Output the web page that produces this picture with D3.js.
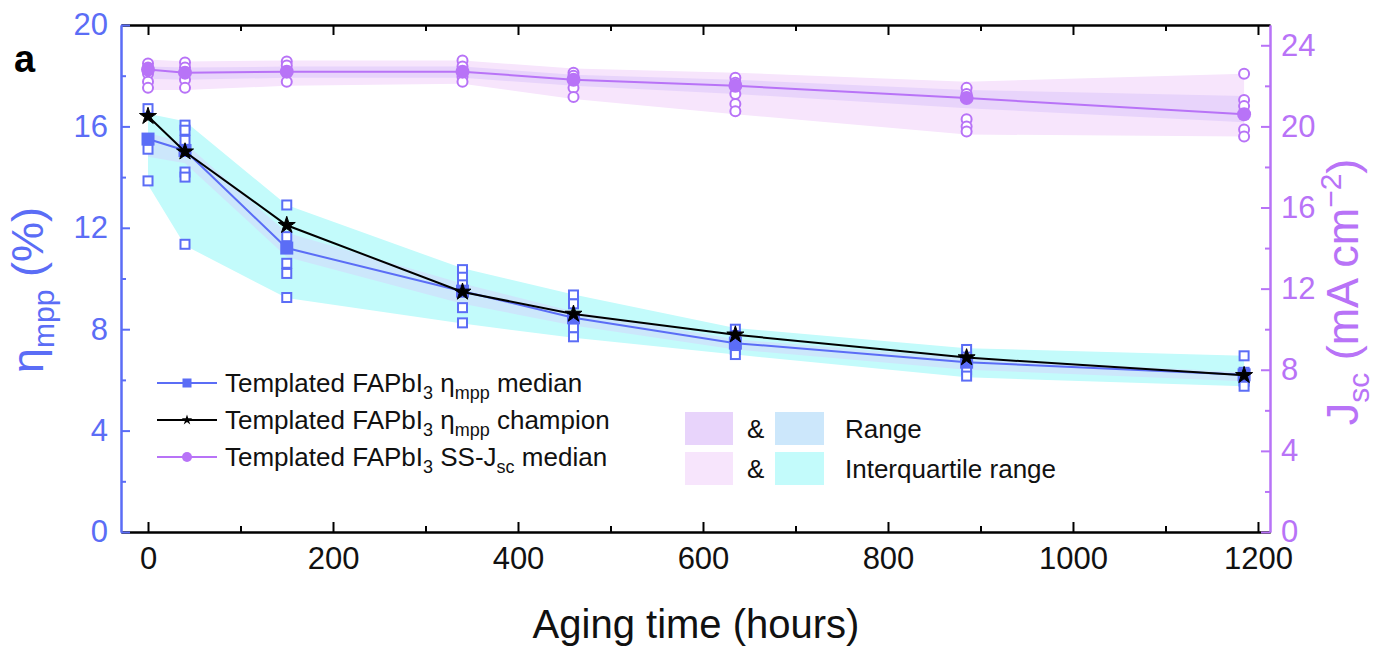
<!DOCTYPE html>
<html>
<head>
<meta charset="utf-8">
<script src="https://cdn.jsdelivr.net/npm/d3@7"></script>
<style>
  html, body { margin: 0; padding: 0; background: #fff; }
  svg { display: block; font-family: Arial, "Liberation Sans", sans-serif; }
</style>
</head>
<body>
<svg id="chart" width="1389" height="646"></svg>
<script>
// Aging times (hours)
const hours = [0, 40, 150, 340, 460, 635, 885, 1185];

// Efficiency at maximum power point (%)
const etaMedian   = [15.5, 15.05, 11.2, 9.5, 8.45, 7.45, 6.7, 6.2];
const etaChampion = [16.4, 15.0, 12.1, 9.47, 8.6, 7.78, 6.88, 6.18];
const etaRangeLo  = [13.7, 11.3, 9.23, 8.22, 7.66, 7.0, 6.1, 5.75];
const etaRangeHi  = [16.5, 16.2, 12.9, 10.4, 9.37, 8.05, 7.25, 6.95];
const etaIqrLo    = [14.8, 14.55, 10.85, 9.0, 8.15, 7.2, 6.4, 5.95];
const etaIqrHi    = [15.75, 15.35, 11.8, 9.8, 8.7, 7.6, 6.85, 6.3];
const etaDevices  = [
  [16.7, 15.1, 13.85],
  [16.05, 15.85, 15.45, 14.2, 14.0, 11.35],
  [12.9, 11.65, 10.6, 10.2, 9.25],
  [10.35, 10.05, 9.75, 8.85, 8.25],
  [9.35, 9.0, 8.35, 8.05, 7.7],
  [8.0, 7.75, 7.2, 7.0],
  [7.2, 6.9, 6.4, 6.15],
  [6.95, 6.3, 5.95, 5.75]
];

// Steady-state short-circuit current density (mA cm^-2)
const jscMedian  = [22.8, 22.65, 22.7, 22.7, 22.3, 22.0, 21.4, 20.6];
const jscRangeLo = [21.8, 21.8, 22.0, 22.1, 21.35, 20.6, 19.6, 19.5];
const jscRangeHi = [23.3, 23.2, 23.25, 23.25, 22.85, 22.65, 22.2, 22.6];
const jscIqrLo   = [22.35, 22.3, 22.4, 22.4, 22.0, 21.6, 20.9, 20.2];
const jscIqrHi   = [22.95, 22.9, 22.95, 22.95, 22.55, 22.3, 21.8, 21.5];
const jscDevices = [
  [23.1, 22.9, 22.6, 22.2, 21.9],
  [23.15, 22.9, 22.3, 21.9],
  [23.2, 23.0, 22.2],
  [23.25, 22.95, 22.45, 22.2],
  [22.65, 22.5, 21.9, 21.45],
  [22.4, 22.15, 21.6, 21.1, 20.75],
  [21.9, 21.6, 20.35, 20.0, 19.75],
  [22.6, 21.3, 21.0, 19.85, 19.5]
];

// Axis ticks
const xMajorTicks = [0, 200, 400, 600, 800, 1000, 1200];
const xMinorTicks = [100, 300, 500, 700, 900, 1100];
const etaMajorTicks = [0, 4, 8, 12, 16, 20];
const etaMinorTicks = [2, 6, 10, 14, 18];
const jscMajorTicks = [0, 4, 8, 12, 16, 20, 24];
const jscMinorTicks = [2, 6, 10, 14, 18, 22];

const BLUE = "#5b6df6";
const PURPLE = "#b873f7";
const CYAN = "#c3fbfb";
const LIGHTBLUE = "#cce7fb";
const PINK = "#f7e5fc";
const LAVENDER = "#e8d4fb";

const svg = d3.select("#chart");
const plot = { left: 121, right: 1270, top: 25, bottom: 532 };

const x = d3.scaleLinear().domain([-29.2, 1213]).range([plot.left, plot.right]);
const yEta = d3.scaleLinear().domain([0, 20]).range([plot.bottom, plot.top]);
const yJsc = d3.scaleLinear().domain([0, 25]).range([plot.bottom, plot.top]);
const fmt = d3.format("d");

// ---- shaded bands ----
function band(lo, hi, y) {
  return d3.area()
    .x((d, i) => x(hours[i]))
    .y0((d, i) => y(lo[i]))
    .y1((d, i) => y(hi[i]))(hours);
}
svg.append("path").attr("d", band(jscRangeLo, jscRangeHi, yJsc)).attr("fill", PINK);
svg.append("path").attr("d", band(jscIqrLo, jscIqrHi, yJsc)).attr("fill", LAVENDER);
svg.append("path").attr("d", band(etaRangeLo, etaRangeHi, yEta)).attr("fill", CYAN);
svg.append("path").attr("d", band(etaIqrLo, etaIqrHi, yEta)).attr("fill", LIGHTBLUE);

// ---- axes ----
function styleAxis(g, color) {
  g.select(".domain").attr("stroke", color).attr("stroke-width", 2);
  g.selectAll(".tick line").attr("stroke", color).attr("stroke-width", 2);
  g.selectAll(".tick text").attr("fill", color).attr("font-size", 31)
    .attr("font-family", "Arial, 'Liberation Sans', sans-serif");
}

// top frame
svg.append("g").attr("transform", `translate(0,${plot.top})`)
  .call(d3.axisTop(x).tickValues(xMajorTicks).tickSize(-10).tickSizeOuter(0).tickFormat(""))
  .call(g => styleAxis(g, "#000"));
svg.append("g").attr("transform", `translate(0,${plot.top})`)
  .call(d3.axisTop(x).tickValues(xMinorTicks).tickSize(-6).tickSizeOuter(0).tickFormat(""))
  .call(g => styleAxis(g, "#000"));

// bottom axis
svg.append("g").attr("transform", `translate(0,${plot.bottom})`)
  .call(d3.axisBottom(x).tickValues(xMinorTicks).tickSize(-6).tickSizeOuter(0).tickFormat(""))
  .call(g => styleAxis(g, "#000"));
svg.append("g").attr("transform", `translate(0,${plot.bottom})`)
  .call(d3.axisBottom(x).tickValues(xMajorTicks).tickSize(-10).tickSizeOuter(0).tickPadding(15).tickFormat(fmt))
  .call(g => styleAxis(g, "#000"))
  .call(g => g.selectAll(".tick text").attr("fill", "#111"));

// left axis (efficiency)
svg.append("g").attr("transform", `translate(${plot.left},0)`)
  .call(d3.axisLeft(yEta).tickValues(etaMinorTicks).tickSize(-5).tickSizeOuter(0).tickFormat(""))
  .call(g => styleAxis(g, BLUE));
svg.append("g").attr("transform", `translate(${plot.left},0)`)
  .call(d3.axisLeft(yEta).tickValues(etaMajorTicks).tickSize(-9).tickSizeOuter(0).tickPadding(13).tickFormat(fmt))
  .call(g => styleAxis(g, BLUE));

// right axis (Jsc)
svg.append("g").attr("transform", `translate(${plot.right},0)`)
  .call(d3.axisRight(yJsc).tickValues(jscMinorTicks).tickSize(-5).tickSizeOuter(0).tickFormat(""))
  .call(g => styleAxis(g, PURPLE));
svg.append("g").attr("transform", `translate(${plot.right},0)`)
  .call(d3.axisRight(yJsc).tickValues(jscMajorTicks).tickSize(-9).tickSizeOuter(0).tickPadding(11).tickFormat(fmt))
  .call(g => styleAxis(g, PURPLE));

// ---- Jsc series ----
const lineJsc = d3.line().x((d, i) => x(hours[i])).y(d => yJsc(d));
svg.append("path").attr("d", lineJsc(jscMedian))
  .attr("fill", "none").attr("stroke", PURPLE).attr("stroke-width", 2);
hours.forEach((h, i) => {
  svg.append("g").selectAll("circle").data(jscDevices[i]).join("circle")
    .attr("cx", x(h)).attr("cy", d => yJsc(d)).attr("r", 5)
    .attr("fill", "#fff").attr("stroke", PURPLE).attr("stroke-width", 2);
});
svg.append("g").selectAll("circle").data(jscMedian).join("circle")
  .attr("cx", (d, i) => x(hours[i])).attr("cy", d => yJsc(d)).attr("r", 7)
  .attr("fill", PURPLE);

// ---- efficiency series ----
const lineEta = d3.line().x((d, i) => x(hours[i])).y(d => yEta(d));
svg.append("path").attr("d", lineEta(etaMedian))
  .attr("fill", "none").attr("stroke", BLUE).attr("stroke-width", 2);
hours.forEach((h, i) => {
  svg.append("g").selectAll("rect").data(etaDevices[i]).join("rect")
    .attr("x", x(h) - 4.5).attr("y", d => yEta(d) - 4.5)
    .attr("width", 9).attr("height", 9)
    .attr("fill", "#fff").attr("stroke", BLUE).attr("stroke-width", 2);
});
svg.append("g").selectAll("rect").data(etaMedian).join("rect")
  .attr("x", (d, i) => x(hours[i]) - 6.5).attr("y", d => yEta(d) - 6.5)
  .attr("width", 13).attr("height", 13).attr("fill", BLUE);

svg.append("path").attr("d", lineEta(etaChampion))
  .attr("fill", "none").attr("stroke", "#000").attr("stroke-width", 2);
const star = d3.symbol().type(d3.symbolStar).size(90);
svg.append("g").selectAll("path").data(etaChampion).join("path")
  .attr("d", star)
  .attr("transform", (d, i) => `translate(${x(hours[i])},${yEta(d)})`)
  .attr("fill", "#000").attr("stroke", "#000").attr("stroke-width", 1);

// ---- axis titles ----
const titleFont = 45, titleSub = 30;
const leftTitle = svg.append("text")
  .attr("transform", "translate(43,290) rotate(-90)")
  .attr("text-anchor", "middle").attr("fill", BLUE).attr("font-size", titleFont);
leftTitle.append("tspan").text("η");
leftTitle.append("tspan").attr("font-size", titleSub).attr("dy", 11).text("mpp");
leftTitle.append("tspan").attr("dy", -11).text(" (%)");

const rightTitle = svg.append("text")
  .attr("transform", "translate(1358,292) rotate(-90)")
  .attr("text-anchor", "middle").attr("fill", PURPLE).attr("font-size", titleFont);
rightTitle.append("tspan").text("J");
rightTitle.append("tspan").attr("font-size", titleSub).attr("dy", 11).text("sc");
rightTitle.append("tspan").attr("dy", -11).text(" (mA cm");
rightTitle.append("tspan").attr("font-size", titleSub).attr("dy", -17).text("−2");
rightTitle.append("tspan").attr("dy", 17).text(")");

svg.append("text").attr("x", 696).attr("y", 638)
  .attr("text-anchor", "middle").attr("font-size", 40).attr("fill", "#111")
  .text("Aging time (hours)");

svg.append("text").attr("x", 14).attr("y", 72)
  .attr("font-size", 38).attr("font-weight", "bold").attr("fill", "#000").text("a");

// ---- series legend ----
const legendRows = [
  { color: BLUE, marker: "square", parts: [["Templated FAPbI"], ["3", "sub"], [" η"], ["mpp", "sub"], [" median"]] },
  { color: "#000", marker: "star", parts: [["Templated FAPbI"], ["3", "sub"], [" η"], ["mpp", "sub"], [" champion"]] },
  { color: PURPLE, marker: "circle", parts: [["Templated FAPbI"], ["3", "sub"], [" SS-J"], ["sc", "sub"], [" median"]] }
];
const legendY = [383, 420, 457];
legendRows.forEach((row, i) => {
  const g = svg.append("g").attr("transform", `translate(0,${legendY[i]})`);
  g.append("line").attr("x1", 157).attr("x2", 217).attr("y1", 0).attr("y2", 0)
    .attr("stroke", row.color).attr("stroke-width", 2);
  if (row.marker === "square") {
    g.append("rect").attr("x", 182.5).attr("y", -4.5).attr("width", 9).attr("height", 9).attr("fill", row.color);
  } else if (row.marker === "star") {
    g.append("path").attr("d", d3.symbol().type(d3.symbolStar).size(34)())
      .attr("transform", "translate(187,0)").attr("fill", "#000");
  } else {
    g.append("circle").attr("cx", 187).attr("cy", 0).attr("r", 5).attr("fill", row.color);
  }
  const t = g.append("text").attr("x", 225).attr("y", 9).attr("font-size", 26).attr("fill", "#111");
  let shifted = false;
  row.parts.forEach(([s, kind]) => {
    const ts = t.append("tspan").text(s);
    if (kind === "sub" && !shifted) { ts.attr("font-size", 18).attr("dy", 7); shifted = true; }
    else if (kind !== "sub" && shifted) { ts.attr("dy", -7); shifted = false; }
    else if (kind === "sub") ts.attr("font-size", 18);
  });
});

// ---- band legend ----
const bandLegend = [
  { left: LAVENDER, right: LIGHTBLUE, label: "Range" },
  { left: PINK, right: CYAN, label: "Interquartile range" }
];
const bandTop = [412, 452];
bandLegend.forEach((b, i) => {
  const y0 = bandTop[i];
  svg.append("rect").attr("x", 685).attr("y", y0).attr("width", 48).attr("height", 33).attr("fill", b.left);
  svg.append("text").attr("x", 747).attr("y", y0 + 26).attr("font-size", 26).attr("fill", "#111").text("&");
  svg.append("rect").attr("x", 775).attr("y", y0).attr("width", 49).attr("height", 33).attr("fill", b.right);
  svg.append("text").attr("x", 845).attr("y", y0 + 26).attr("font-size", 26).attr("fill", "#111").text(b.label);
});
</script>
</body>
</html>
